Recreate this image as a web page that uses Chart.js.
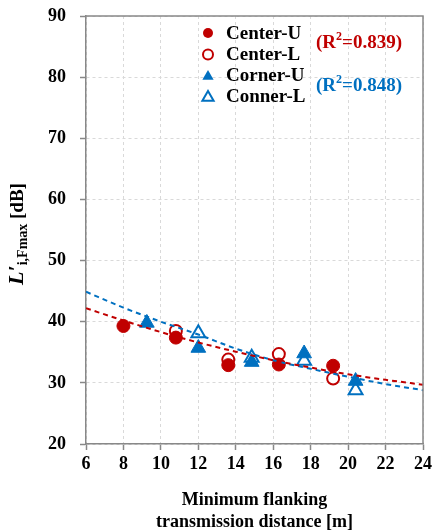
<!DOCTYPE html>
<html>
<head>
<meta charset="utf-8">
<script src="https://cdn.jsdelivr.net/npm/chart.js@4.4.1/dist/chart.umd.min.js"></script>
<style>
  html, body { margin: 0; padding: 0; background: #fff; }
  #wrap { width: 434px; height: 532px; }
</style>
</head>
<body>
<div id="wrap"><canvas id="chart" width="434" height="532"></canvas></div>
<script>
// ---- Data ------------------------------------------------------------------
const xTicks = [6, 8, 10, 12, 14, 16, 18, 20, 22, 24];
const yTicks = [20, 30, 40, 50, 60, 70, 80, 90];

const centerUX = [8, 10.8, 13.6, 16.3, 19.2];
const centerUY = [39.3, 37.4, 32.9, 33.0, 32.8];
const centerLX = [10.8, 13.6, 16.3, 19.2];
const centerLY = [38.5, 33.8, 34.7, 30.7];
const cornerUX = [9.25, 12.0, 14.85, 17.65, 20.4];
const cornerUY = [39.8, 35.7, 33.4, 34.8, 30.3];
const cornerLX = [12.0, 14.85, 17.65, 20.4];
const cornerLY = [38.1, 34.1, 33.6, 28.8];

// fitted trend curves
const trendX = [6, 8, 10, 12, 14, 16, 18, 20, 22, 24];
const trendCenterY = [42.2, 40.2, 38.3, 36.6, 35.1, 33.7, 32.5, 31.4, 30.5, 29.7];
const trendCornerY = [44.9, 42.3, 40.0, 37.9, 35.6, 33.7, 32.3, 31.0, 29.8, 28.8];

const r2Center = "0.839";
const r2Corner = "0.848";

const RED = "#C00000";
const BLUE = "#0070C0";
const FONT = "'Liberation Serif', 'Times New Roman', serif";

const pts = (xs, ys) => xs.map((x, i) => ({ x, y: ys[i] }));

// ---- Plugins ---------------------------------------------------------------
const frame = {
  id: "frame",
  afterDraw(chart) {
    const { ctx, chartArea: a } = chart;
    ctx.save();
    ctx.strokeStyle = "#888";
    ctx.lineWidth = 1.5;
    ctx.beginPath();
    ctx.moveTo(a.left, a.top);
    ctx.lineTo(a.right, a.top);
    ctx.lineTo(a.right, a.bottom);
    ctx.stroke();
    ctx.restore();
  }
};

const marker = (ctx, style, filled, color, x, y, r) => {
  ctx.beginPath();
  if (style === "circle") {
    ctx.arc(x, y, r, 0, Math.PI * 2);
  } else {
    ctx.moveTo(x, y - r);
    ctx.lineTo(x + r * 0.866, y + r * 0.5);
    ctx.lineTo(x - r * 0.866, y + r * 0.5);
    ctx.closePath();
  }
  if (filled) {
    ctx.fillStyle = color;
    ctx.fill();
  } else {
    ctx.fillStyle = "#fff";
    ctx.fill();
    ctx.lineWidth = 2;
    ctx.strokeStyle = color;
    ctx.stroke();
  }
};

const r2Text = (ctx, val, x, y, color) => {
  ctx.fillStyle = color;
  ctx.textBaseline = "middle";
  ctx.textAlign = "left";
  ctx.font = "bold 19px " + FONT;
  ctx.fillText("(R", x, y);
  x += ctx.measureText("(R").width;
  ctx.font = "bold 12px " + FONT;
  ctx.fillText("2", x, y - 6);
  x += ctx.measureText("2").width;
  ctx.font = "bold 19px " + FONT;
  ctx.fillText("=" + val + ")", x, y);
};

const legendBox = {
  id: "legendBox",
  afterDraw(chart) {
    const { ctx } = chart;
    const rows = [
      ["Center-U", "circle", true, RED],
      ["Center-L", "circle", false, RED],
      ["Corner-U", "triangle", true, BLUE],
      ["Conner-L", "triangle", false, BLUE]
    ];
    const ys = [33, 54.5, 75.5, 96.5];
    ctx.save();
    rows.forEach((r, i) => {
      marker(ctx, r[1], r[2], r[3], 208, ys[i] + (r[1] === "triangle" ? 1 : 0), r[1] === "circle" ? 5 : 6.5);
      ctx.fillStyle = "#000";
      ctx.font = "bold 19px " + FONT;
      ctx.textAlign = "left";
      ctx.textBaseline = "middle";
      ctx.fillText(r[0], 226, ys[i] + 1);
    });
    r2Text(ctx, r2Center, 316, 43, RED);
    r2Text(ctx, r2Corner, 316, 86, BLUE);
    ctx.restore();
  }
};

const yTitle = {
  id: "yTitle",
  afterDraw(chart) {
    const { ctx } = chart;
    const parts = [
      ["L\u2032", "italic bold 22px " + FONT, 0],
      ["i,Fmax", "bold 14px " + FONT, 4],
      [" [dB]", "bold 19px " + FONT, 0]
    ];
    ctx.save();
    ctx.translate(23, 234);
    ctx.rotate(-Math.PI / 2);
    ctx.fillStyle = "#000";
    ctx.textBaseline = "alphabetic";
    ctx.textAlign = "left";
    let w = 0;
    parts.forEach(p => { ctx.font = p[1]; w += ctx.measureText(p[0]).width; });
    let x = -w / 2;
    parts.forEach(p => {
      ctx.font = p[1];
      ctx.fillText(p[0], x, p[2]);
      x += ctx.measureText(p[0]).width;
    });
    ctx.restore();
  }
};

const xTitle = {
  id: "xTitle",
  afterDraw(chart) {
    const { ctx, chartArea: a } = chart;
    const cx = (a.left + a.right) / 2;
    ctx.save();
    ctx.fillStyle = "#000";
    ctx.font = "bold 18px " + FONT;
    ctx.textAlign = "center";
    ctx.textBaseline = "middle";
    ctx.fillText("Minimum flanking", cx, 500);
    ctx.fillText("transmission distance [m]", cx, 522);
    ctx.restore();
  }
};

// ---- Chart -----------------------------------------------------------------
const tickFont = { family: FONT, size: 18, weight: "bold" };

new Chart(document.getElementById("chart"), {
  type: "scatter",
  data: {
    datasets: [
      {
        type: "line", label: "trend-center", data: pts(trendX, trendCenterY),
        borderColor: RED, borderWidth: 2, borderDash: [5, 4], pointRadius: 0,
        cubicInterpolationMode: "monotone", fill: false
      },
      {
        type: "line", label: "trend-corner", data: pts(trendX, trendCornerY),
        borderColor: BLUE, borderWidth: 2, borderDash: [5, 4], pointRadius: 0,
        cubicInterpolationMode: "monotone", fill: false
      },
      {
        label: "Center-U", data: pts(centerUX, centerUY), pointStyle: "circle",
        pointRadius: 6.5, borderWidth: 1, backgroundColor: RED, borderColor: RED
      },
      {
        label: "Center-L", data: pts(centerLX, centerLY), pointStyle: "circle",
        pointRadius: 6, borderWidth: 2, backgroundColor: "#fff", borderColor: RED
      },
      {
        label: "Corner-U", data: pts(cornerUX, cornerUY), pointStyle: "triangle",
        pointRadius: 8.5, borderWidth: 1, backgroundColor: BLUE, borderColor: BLUE
      },
      {
        label: "Conner-L", data: pts(cornerLX, cornerLY), pointStyle: "triangle",
        pointRadius: 8, borderWidth: 2, backgroundColor: "#fff", borderColor: BLUE
      }
    ]
  },
  options: {
    responsive: false,
    animation: false,
    layout: { padding: { top: 16, right: 11, left: 0, bottom: 0 } },
    plugins: { legend: { display: false }, tooltip: { enabled: false } },
    scales: {
      x: {
        type: "linear", min: xTicks[0], max: xTicks[xTicks.length - 1],
        afterBuildTicks: s => { s.ticks = xTicks.map(v => ({ value: v })); },
        afterFit: s => { s.height = 88; s.paddingLeft = 0; s.paddingRight = 0; },
        ticks: { font: tickFont, color: "#000", padding: 4 },
        grid: { color: "#d9d9d9", lineWidth: 1, tickLength: 6, tickColor: "#888", tickWidth: 1.5, tickBorderDash: [] },
        border: { display: true, color: "#888", width: 1.5, dash: [3, 3] }
      },
      y: {
        type: "linear", min: yTicks[0], max: yTicks[yTicks.length - 1],
        afterBuildTicks: s => { s.ticks = yTicks.map(v => ({ value: v })); },
        afterFit: s => { s.width = 86; s.paddingTop = 0; s.paddingBottom = 0; },
        ticks: { font: tickFont, color: "#000", padding: 14 },
        grid: { color: "#d9d9d9", lineWidth: 1, tickLength: 6, tickColor: "#888", tickWidth: 1.5, tickBorderDash: [] },
        border: { display: true, color: "#888", width: 1.5, dash: [3, 3] }
      }
    }
  },
  plugins: [frame, legendBox, yTitle, xTitle]
});
</script>
</body>
</html>
